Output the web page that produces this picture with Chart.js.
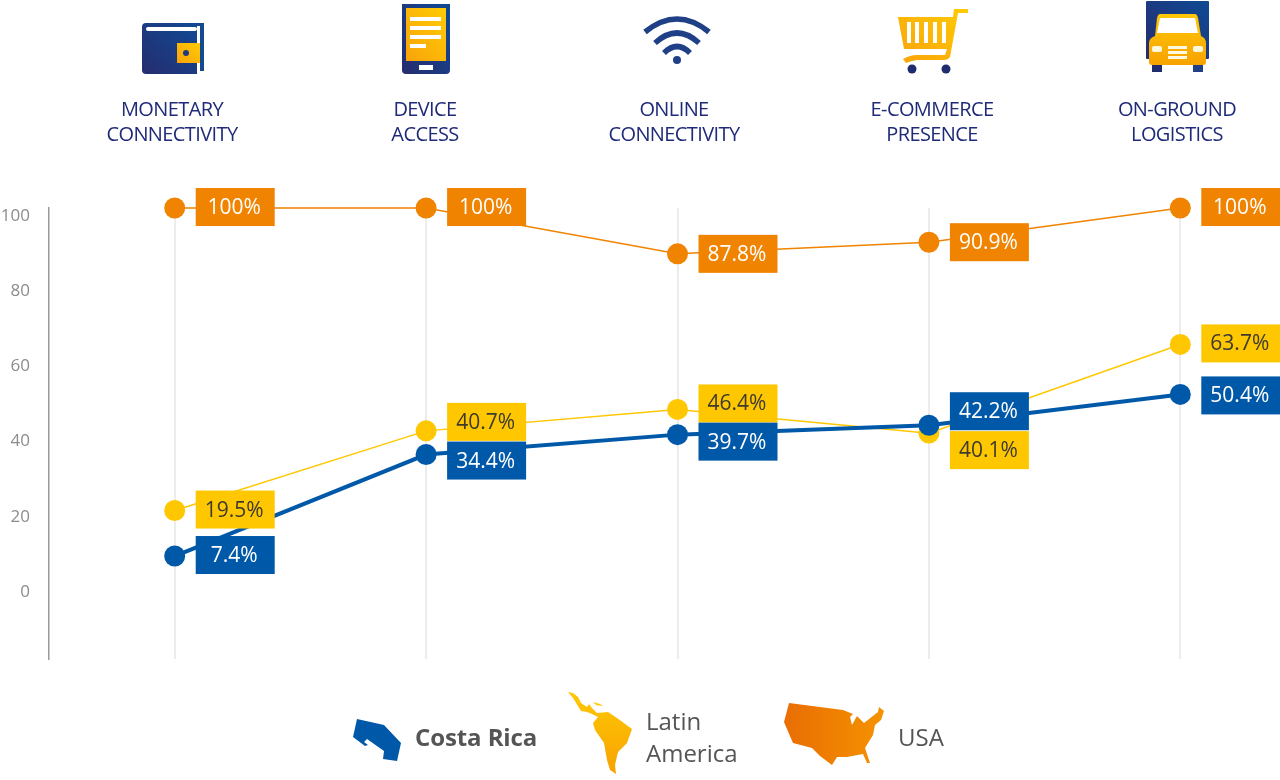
<!DOCTYPE html>
<html>
<head>
<meta charset="utf-8">
<title>Connectivity chart</title>
<script src="https://cdn.jsdelivr.net/npm/chart.js@4"></script>
<style>
  html, body { margin: 0; padding: 0; background: #fff; }
  #page { position: relative; width: 1280px; height: 780px; overflow: hidden; font-family: "Open Sans", sans-serif; }
  #chart { position: absolute; left: 0; top: 0; }
  #art { position: absolute; left: 0; top: 0; }
  .head { position: absolute; top: 96px; width: 220px; text-align: center; color: #1f2a78; font-size: 20px; line-height: 25px; letter-spacing: -0.6px; }
  .key { position: absolute; color: #555; font-size: 24px; line-height: 32px; }
</style>
</head>
<body>
<div id="page">
  <canvas id="chart" width="1306" height="780"></canvas>

  <svg id="art" width="1280" height="780" viewBox="0 0 1280 780">
    <defs>
      <linearGradient id="navy" x1="0" y1="1" x2="1" y2="0">
        <stop offset="0" stop-color="#262c6e"/><stop offset="1" stop-color="#104a94"/>
      </linearGradient>
      <linearGradient id="gold" x1="0" y1="1" x2="1" y2="0">
        <stop offset="0" stop-color="#f9a30a"/><stop offset="1" stop-color="#ffcb05"/>
      </linearGradient>
      <linearGradient id="goldDown" x1="0" y1="0" x2="0" y2="1">
        <stop offset="0" stop-color="#ffc805"/><stop offset="1" stop-color="#f7a200"/>
      </linearGradient>
      <linearGradient id="burnt" x1="0" y1="0" x2="1" y2="0">
        <stop offset="0" stop-color="#e96d04"/><stop offset="1" stop-color="#f59300"/>
      </linearGradient>
    </defs>

    <!-- wallet -->
    <path d="M146 23H197V74H146a4 4 0 0 1-4-4V27a4 4 0 0 1 4-4z" fill="url(#navy)"/>
    <rect x="146" y="27" width="51" height="4" rx="2" fill="#fff"/>
    <path d="M197 23H204V71H200V26H197z" fill="#164a90"/>
    <rect x="177" y="43" width="23" height="20" fill="url(#gold)"/>
    <circle cx="186" cy="53" r="3" fill="#1f3a80"/>

    <!-- tablet -->
    <path d="M402 4H450V70a4 4 0 0 1-4 4H406a4 4 0 0 1-4-4z" fill="url(#navy)"/>
    <rect x="406" y="8" width="40" height="53" fill="url(#gold)"/>
    <rect x="410" y="17" width="31" height="4" fill="#fff"/>
    <rect x="410" y="26" width="31" height="4" fill="#fff"/>
    <rect x="410" y="35" width="31" height="4" fill="#fff"/>
    <rect x="410" y="44" width="16" height="4" fill="#fff"/>
    <rect x="419" y="65" width="14" height="5" fill="#fff"/>

    <!-- wifi -->
    <g fill="none" stroke="#1f3f86" stroke-width="5.5">
      <path d="M645 32Q677 6 709 32"/>
      <path d="M655 43Q677 23 699 43"/>
      <path d="M664 53Q677 40 690 53"/>
    </g>
    <circle cx="677" cy="60" r="4" fill="#1f3f86"/>

    <!-- cart -->
    <path fill-rule="evenodd" fill="url(#gold)" d="M954 9H968V13H958L950 57Q948 60 944 60H917Q911 61 906 63L903 59Q910 55 917 55H945L947 49H904L898 17H953zM907 22V43H911V22zM915 22V43H919V22zM924 22V43H928V22zM933 22V43H937V22zM942 22V43H946V22z"/>
    <circle cx="912" cy="69" r="4.5" fill="#1f2c6e"/>
    <circle cx="946" cy="69" r="4.5" fill="#1f2c6e"/>

    <!-- truck -->
    <rect x="1146" y="1" width="63" height="58" rx="1" fill="url(#navy)"/>
    <rect x="1152" y="62" width="10" height="10" fill="#1f2c6e"/>
    <rect x="1193" y="62" width="10" height="10" fill="#1f3f86"/>
    <path d="M1160 14H1195Q1197 14 1198 18L1201 36Q1206 38 1206 43V62a3 3 0 0 1-3 3H1152a3 3 0 0 1-3-3V43Q1149 38 1155 36L1157 18Q1158 14 1160 14z" fill="url(#goldDown)"/>
    <path d="M1160 18H1195L1198 33H1157z" fill="#fff"/>
    <rect x="1152" y="46" width="10" height="6" rx="2" fill="#fff8e0"/>
    <rect x="1193" y="46" width="10" height="6" rx="2" fill="#fff8e0"/>
    <rect x="1168" y="46" width="19" height="3" fill="#fff8e0"/>
    <rect x="1168" y="51" width="19" height="3" fill="#fff8e0"/>
    <rect x="1168" y="56" width="19" height="3" fill="#fff8e0"/>

    <!-- legend shapes -->
    <path d="M357 719L384 725L401 743L397 761L383 759L384 751L367 739L364 742L368 745L365 746L353 737z" fill="#0059a8"/>
    <path d="M568 692L573 693L578 697L581 703L587 707L589 704L592 708L597 713L608 712L617 718L632 729L627 743L618 752L615 765L616 774L610 770L607 760L604 743L595 730L593 723L598 717L592 714L587 712L581 711L573 698z" fill="url(#goldDown)"/>
    <path d="M593 702L600 704L603 706L596 705z" fill="#ffc805"/>
    <path d="M789 703L843 710L853 714L850 717L852 725L857 716L864 723L878 712L879 707L884 711L881 720L875 725L873 735L865 748L870 763L867 763L863 754L847 757L837 757L832 765L820 756L812 748L793 743L784 722z" fill="url(#burnt)"/>
  </svg>

  <div class="head" style="left:62px">MONETARY<br>CONNECTIVITY</div>
  <div class="head" style="left:315px">DEVICE<br>ACCESS</div>
  <div class="head" style="left:564px">ONLINE<br>CONNECTIVITY</div>
  <div class="head" style="left:822px">E-COMMERCE<br>PRESENCE</div>
  <div class="head" style="left:1067px">ON-GROUND<br>LOGISTICS</div>

  <div class="key" style="left:415px;top:721px;font-weight:700;letter-spacing:-0.1px">Costa Rica</div>
  <div class="key" style="left:646px;top:705px">Latin<br>America</div>
  <div class="key" style="left:898px;top:721px">USA</div>
</div>

<script>
const categories = ['Monetary Connectivity', 'Device Access', 'Online Connectivity', 'E-Commerce Presence', 'On-Ground Logistics'];
const costaRica = [7.4, 34.4, 39.7, 42.2, 50.4];
const latinAmerica = [19.5, 40.7, 46.4, 40.1, 63.7];
const usa = [100, 100, 87.8, 90.9, 100];
const tickLabels = ['100', '80', '60', '40', '20', '0'];

const ORANGE = '#f08300';
const YELLOW = '#ffc700';
const BLUE = '#0059a8';

// vertical nudge of each value box relative to its point, so stacked boxes don't overlap
const boxShift = [
  [-1, 6, 7, -14, 1],     // blue
  [-1, -9, -6, 17, -1],   // yellow
  [-1, -1, 0, 0, -1],     // orange
];

const valueBoxes = {
  id: 'valueBoxes',
  afterDatasetsDraw(chart) {
    const ctx = chart.ctx;
    ctx.save();
    ctx.font = '21px "Open Sans", sans-serif';
    ctx.textAlign = 'center';
    ctx.textBaseline = 'middle';
    // orange first, blue last
    [2, 1, 0].forEach((d) => {
      const ds = chart.data.datasets[d];
      chart.getDatasetMeta(d).data.forEach((pt, i) => {
        const cy = pt.y + boxShift[d][i];
        ctx.fillStyle = ds.borderColor;
        ctx.fillRect(pt.x + 21, cy - 19, 79, 38);
        ctx.fillStyle = d === 1 ? '#3d3a30' : '#fff';
        ctx.fillText(ds.data[i] + '%', pt.x + 59.5, cy + 1);
      });
    });
    ctx.restore();
  },
};

function lineSet(label, data, color, width, order) {
  return {
    label,
    data,
    order,
    clip: false,
    borderColor: color,
    backgroundColor: color,
    borderWidth: width,
    pointRadius: 10.5,
    pointHoverRadius: 10.5,
    pointBackgroundColor: color,
    pointBorderWidth: 0,
    tension: 0,
  };
}

new Chart(document.getElementById('chart'), {
  type: 'line',
  data: {
    labels: categories,
    datasets: [
      lineSet('Costa Rica', costaRica, BLUE, 4, 1),
      lineSet('Latin America', latinAmerica, YELLOW, 1.5, 2),
      lineSet('USA', usa, ORANGE, 1.5, 3),
    ],
  },
  plugins: [valueBoxes],
  options: {
    responsive: false,
    animation: false,
    layout: { autoPadding: false, padding: { top: 208, bottom: 121, left: 0, right: 0 } },
    plugins: { legend: { display: false }, tooltip: { enabled: false } },
    scales: {
      x: {
        offset: true,
        grid: { offset: false, color: '#ececec', lineWidth: 2, drawTicks: false },
        border: { display: false },
        ticks: { display: false },
      },
      y: {
        min: -20,
        max: 100,
        afterFit(scale) { scale.width = 49; },
        ticks: {
          stepSize: 20,
          padding: 11,
          labelOffset: 8,
          color: '#8c8c8c',
          font: { family: '"Open Sans", sans-serif', size: 17 },
          callback: (v) => (tickLabels.includes(String(v)) ? String(v) : ''),
        },
        grid: { display: false },
        border: { color: '#9a9a9a', width: 1.5 },
      },
    },
  },
});
</script>
</body>
</html>
